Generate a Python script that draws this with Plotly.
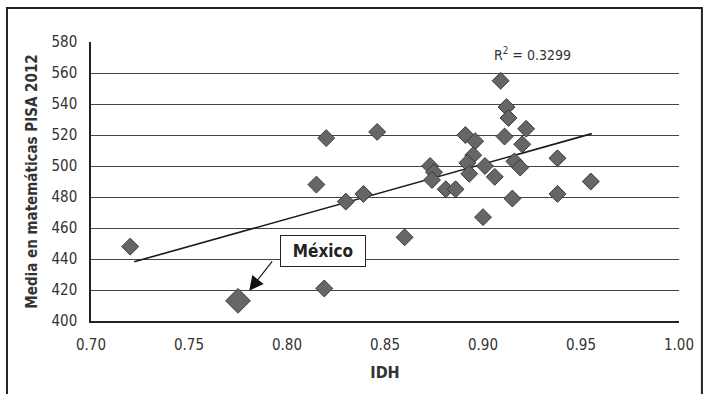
import plotly.graph_objects as go

# Data
idh = [0.720, 0.815, 0.820, 0.819, 0.830, 0.839, 0.846, 0.860, 0.873, 0.875,
       0.874, 0.881, 0.886, 0.891, 0.896, 0.895, 0.892, 0.893, 0.901, 0.900,
       0.906, 0.909, 0.912, 0.913, 0.911, 0.916, 0.915, 0.919, 0.920, 0.922,
       0.938, 0.938, 0.955]
pisa = [448, 488, 518, 421, 477, 482, 522, 454, 500, 496,
        491, 485, 485, 520, 516, 507, 502, 495, 500, 467,
        493, 555, 538, 531, 519, 503, 479, 499, 514, 524,
        505, 482, 490]
mexico_idh = [0.775]
mexico_pisa = [413]
trend_idh = [0.722, 0.9555]
trend_pisa = [438.2, 520.9]
r2_text = "R<sup>2</sup> = 0.3299"

FONT = "DejaVu Sans Condensed, Liberation Sans Narrow, sans-serif"

fig = go.Figure()
fig.add_trace(go.Scatter(x=trend_idh, y=trend_pisa, mode="lines",
                         line=dict(color="#1a1a1a", width=1.6), showlegend=False,
                         hoverinfo="skip"))
fig.add_trace(go.Scatter(x=idh, y=pisa, mode="markers",
                         marker=dict(symbol="diamond", size=13, color="#666666",
                                     line=dict(color="#3a3a3a", width=1)),
                         showlegend=False))
fig.add_trace(go.Scatter(x=mexico_idh, y=mexico_pisa, mode="markers",
                         marker=dict(symbol="diamond", size=19, color="#666666",
                                     line=dict(color="#3a3a3a", width=1)),
                         showlegend=False))

# Arrow pointing to Mexico
fig.add_annotation(x=0.7807, y=419.5, xref="x", yref="y", text=" ",
                   showarrow=True, ax=25, ay=-32, arrowhead=2, arrowsize=2.6,
                   arrowwidth=1.1, arrowcolor="#111111",
                   font=dict(size=4))
# Mexico label box
fig.add_annotation(x=0.8186, y=445.1, xref="x", yref="y", text="<b>México</b>",
                   showarrow=False, font=dict(family=FONT, size=17, color="#222222"),
                   bordercolor="#222222", borderwidth=1, bgcolor="white",
                   width=82, height=28)
# R^2 label
fig.add_annotation(x=0.925, y=572.5, xref="x", yref="y", text=r2_text,
                   showarrow=False, font=dict(family=FONT, size=14, color="#333333"))

# Outer frame
fig.add_shape(type="rect", xref="paper", yref="paper",
              x0=-0.1429, x1=1.039, y0=-0.4, y1=1.1219,
              line=dict(color="#222222", width=2), fillcolor="rgba(0,0,0,0)",
              layer="below")

fig.update_layout(
    width=708, height=394,
    margin=dict(l=91, r=29, t=42, b=73),
    paper_bgcolor="white", plot_bgcolor="white",
    font=dict(family=FONT, size=15, color="#333333"),
    xaxis=dict(range=[0.70, 1.00], dtick=0.05, tickformat=".2f",
               showgrid=False, zeroline=False, showline=True,
               linecolor="#222222", linewidth=1.5,
               ticks="outside", ticklen=9, tickcolor="rgba(0,0,0,0)",
               title=dict(text="<b>IDH</b>", font=dict(size=16, color="#333333"),
                          standoff=14)),
    yaxis=dict(range=[400, 580], dtick=20,
               showgrid=True, gridcolor="#444444", gridwidth=1,
               zeroline=False, showline=True, linecolor="#222222", linewidth=1.5,
               ticks="outside", ticklen=9, tickcolor="rgba(0,0,0,0)",
               title=dict(text="<b>Media en matemáticas PISA 2012</b>",
                          font=dict(size=15, color="#333333"), standoff=10)),
)
fig.write_html("out.html")
